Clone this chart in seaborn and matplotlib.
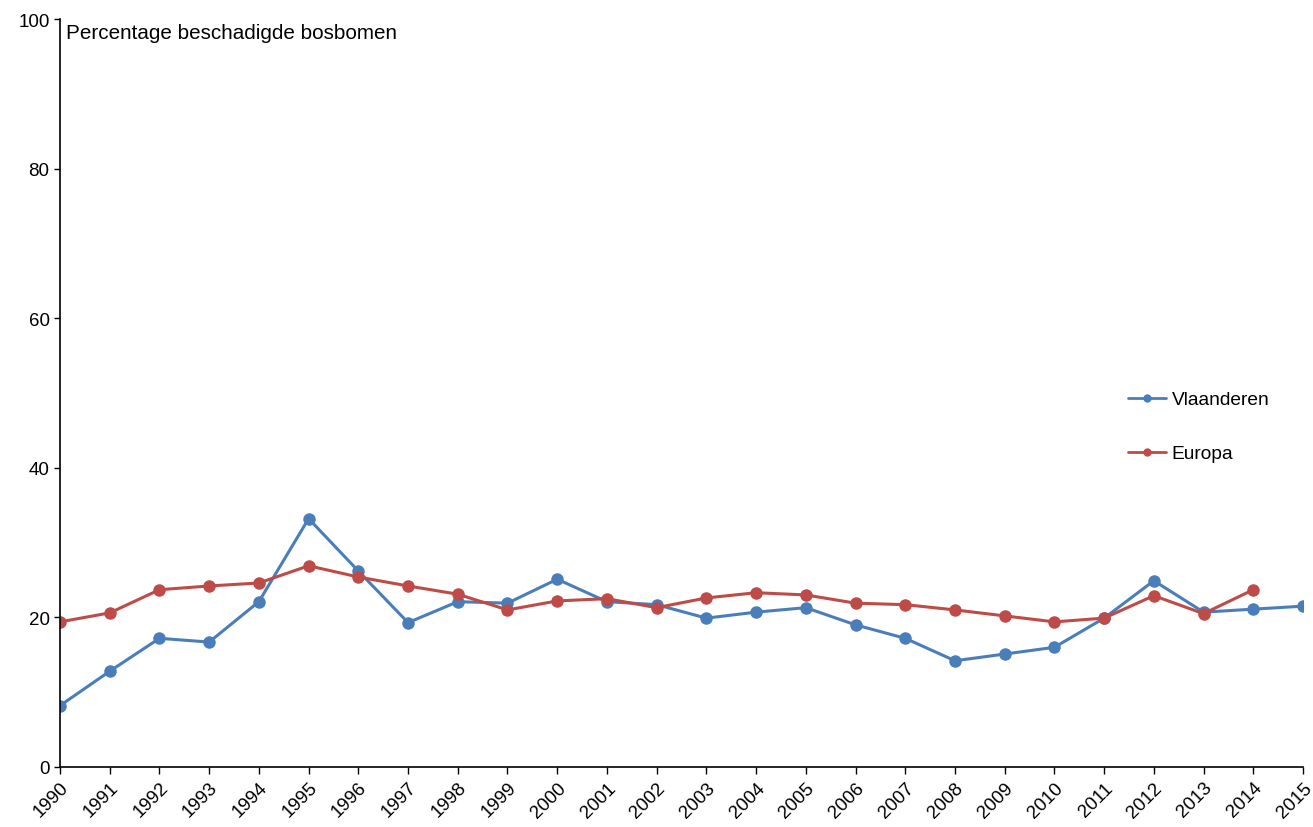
import numpy as np
import pandas as pd
import matplotlib.pyplot as plt
import seaborn as sns

# data
years = list(range(1990, 2016))
vlaanderen = [8.2, 12.8, 17.2, 16.7, 22.1, 33.2, 26.2, 19.3, 22.1, 21.9,
              25.1, 22.1, 21.7, 19.9, 20.7, 21.3, 19.0, 17.2, 14.2, 15.1,
              16.0, 19.9, 24.9, 20.7, 21.1, 21.5]
europa = [19.4, 20.6, 23.7, 24.2, 24.6, 26.9, 25.4, 24.2, 23.1, 21.0,
          22.2, 22.5, 21.3, 22.6, 23.3, 23.0, 21.9, 21.7, 21.0, 20.2,
          19.4, 19.9, 22.9, 20.5, 23.7, np.nan]
series_names = ['Vlaanderen', 'Europa']
colors = ['#4a7ebb', '#be4b48']

df = pd.DataFrame({
    'jaar': years * 2,
    'waarde': vlaanderen + europa,
    'reeks': [series_names[0]] * len(years) + [series_names[1]] * len(years),
})

sns.set_style('white')
plt.rcParams['font.family'] = ['Liberation Sans', 'DejaVu Sans']
plt.rcParams['text.color'] = 'black'
plt.rcParams['xtick.color'] = 'black'
plt.rcParams['ytick.color'] = 'black'

fig = plt.figure(figsize=(13.13, 8.28), dpi=100)
ax = fig.add_axes([0.0457, 0.0725, 0.9467, 0.9033])

sns.lineplot(data=df, x='jaar', y='waarde', hue='reeks', palette=colors,
             marker='o', markersize=9, markeredgewidth=0, linewidth=2.2,
             ax=ax)

ax.set_xlim(1990, 2015)
ax.set_ylim(0, 100)
ax.set_xticks(years)
ax.set_xticklabels([str(y) for y in years], rotation=45, ha='right',
                   rotation_mode='anchor', fontsize=13.5)
ax.set_yticks([0, 20, 40, 60, 80, 100])
ax.tick_params(axis='y', labelsize=13.5, length=4, width=1, direction='out', left=True)
ax.tick_params(axis='x', length=5, width=1, direction='out', bottom=True)
ax.set_xlabel('')
ax.set_ylabel('')

for side in ['top', 'right']:
    ax.spines[side].set_visible(False)
for side in ['left', 'bottom']:
    ax.spines[side].set_color('#000000')
    ax.spines[side].set_linewidth(1.2)

ax.text(0.005, 0.995, 'Percentage beschadigde bosbomen', transform=ax.transAxes,
        ha='left', va='top', fontsize=14.9)

leg = ax.legend(loc='center left', bbox_to_anchor=(0.845, 0.455), frameon=False,
                fontsize=13.8, labelspacing=1.9, handlelength=2.0, handletextpad=0.3)
for line in leg.get_lines():
    line.set_markersize(6)
    line.set_linewidth(2)

plt.savefig('out.png', dpi=100)
plt.close()
